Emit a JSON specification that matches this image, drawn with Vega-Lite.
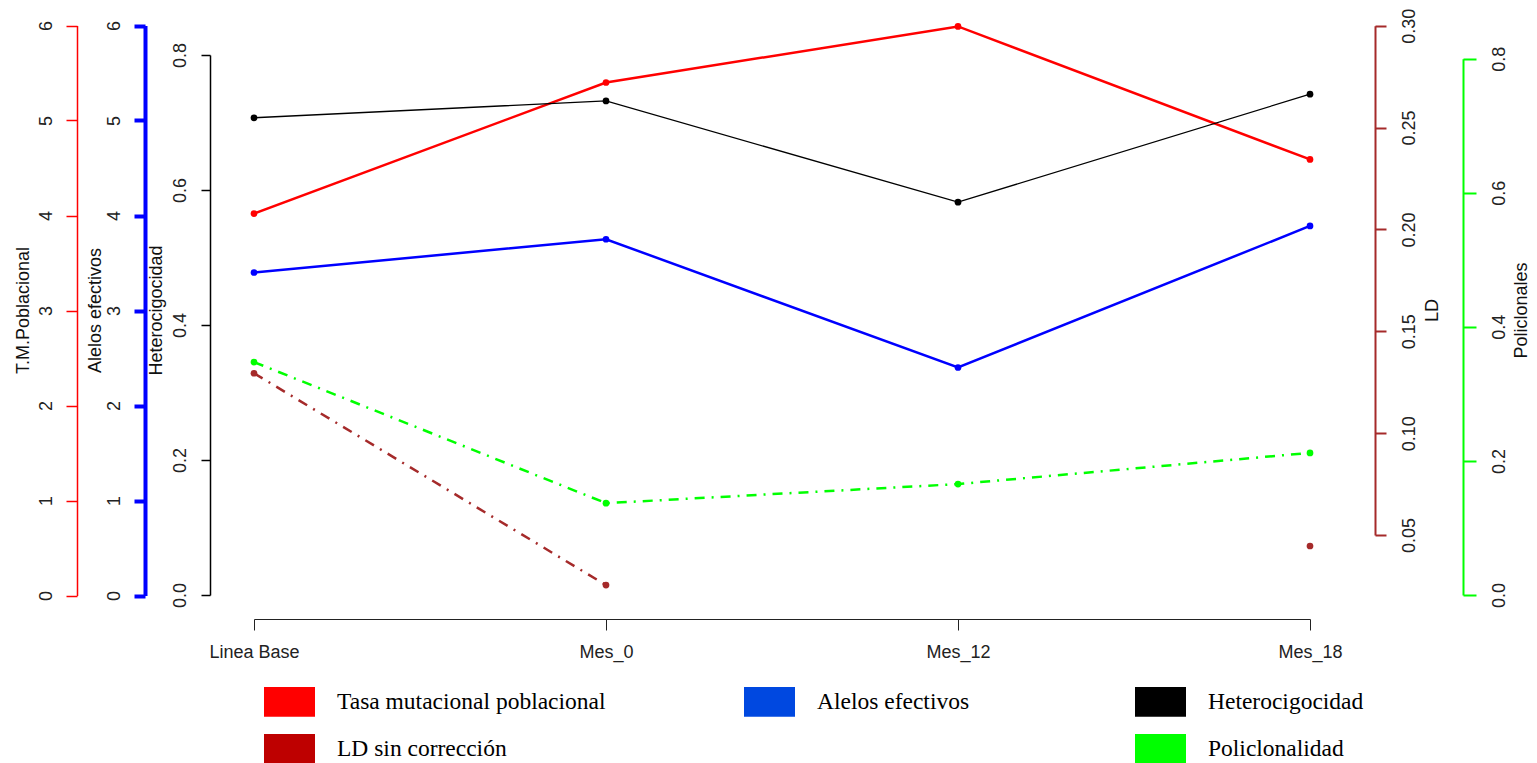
{
  "$schema": "https://vega.github.io/schema/vega-lite/v6.json",
  "autosize": "none",
  "padding": {"left": 210, "top": 0, "right": 185, "bottom": 144},
  "width": 1142,
  "height": 619,
  "background": "white",
  "config": {
    "view": {"stroke": null},
    "axis": {"grid": false, "labelFont": "Liberation Sans", "titleFont": "Liberation Sans", "labelFontSize": 18, "titleFontSize": 18, "labelColor": "#222", "titleColor": "#111", "titleFontWeight": "normal", "labelFlush": false, "labelOverlap": false}
  },
  "data": {
    "values": [
      {"periodo": "Linea Base", "tasa": 4.02, "alelos": 3.40, "hetero": 0.707, "ld": 0.1294, "poli": 0.3475},
      {"periodo": "Mes_0", "tasa": 5.40, "alelos": 3.75, "hetero": 0.732, "ld": 0.0254, "poli": 0.137},
      {"periodo": "Mes_12", "tasa": 5.99, "alelos": 2.40, "hetero": 0.582, "ld": null, "poli": 0.1655},
      {"periodo": "Mes_18", "tasa": 4.59, "alelos": 3.89, "hetero": 0.742, "ld": 0.0446, "poli": 0.212}
    ]
  },
  "encoding": {
    "x": {
      "field": "periodo", "type": "ordinal", "sort": null,
      "scale": {"type": "point", "range": [44, 1100], "padding": 0},
      "axis": {"title": null, "labelAngle": 0, "domainColor": "#222", "domainWidth": 1, "tickColor": "#222", "tickWidth": 1, "tickSize": 11, "labelPadding": 13, "labelColor": "#222"}
    }
  },
  "layer": [
    {
      "encoding": {
        "y": {
          "field": "tasa", "type": "quantitative",
          "scale": {"domain": [0, 6], "range": [595.5, 25.5], "nice": false, "zero": false},
          "axis": {"orient": "left", "offset": 133, "values": [0, 1, 2, 3, 4, 5, 6], "domainColor": "#FF0000", "domainWidth": 1.5, "tickColor": "#FF0000", "tickWidth": 1.5, "tickSize": 11, "labelAngle": 270, "labelAlign": "center", "labelBaseline": "middle", "labelPadding": 20, "title": "T.M.Poblacional", "titleAngle": 270, "titleAlign": "center", "titleBaseline": "middle", "titleX": -54, "titleY": 310}
        }
      },
      "layer": [
        {"mark": {"type": "line", "color": "#FF0000", "strokeWidth": 2.5}},
        {"mark": {"type": "point", "filled": true, "opacity": 1, "size": 45, "color": "#FF0000"}}
      ]
    },
    {
      "encoding": {
        "y": {
          "field": "alelos", "type": "quantitative",
          "scale": {"domain": [0, 6], "range": [595.5, 25.5], "nice": false, "zero": false},
          "axis": {"orient": "left", "offset": 65, "values": [0, 1, 2, 3, 4, 5, 6], "domainColor": "#0000FF", "domainWidth": 4, "tickColor": "#0000FF", "tickWidth": 4, "tickSize": 11, "labelAngle": 270, "labelAlign": "center", "labelBaseline": "middle", "labelPadding": 20, "title": "Alelos efectivos", "titleAngle": 270, "titleAlign": "center", "titleBaseline": "middle", "titleX": -50, "titleY": 310}
        }
      },
      "layer": [
        {"mark": {"type": "line", "color": "#0000FF", "strokeWidth": 2.5}},
        {"mark": {"type": "point", "filled": true, "opacity": 1, "size": 45, "color": "#0000FF"}}
      ]
    },
    {
      "encoding": {
        "y": {
          "field": "hetero", "type": "quantitative",
          "scale": {"domain": [0, 0.8], "range": [595, 55], "nice": false, "zero": false},
          "axis": {"orient": "left", "offset": 0, "values": [0, 0.2, 0.4, 0.6, 0.8], "format": ".1f", "domainColor": "#000000", "domainWidth": 1.5, "tickColor": "#000000", "tickWidth": 1.5, "tickSize": 9, "labelAngle": 270, "labelAlign": "center", "labelBaseline": "middle", "labelPadding": 21, "title": "Heterocigocidad", "titleAngle": 270, "titleAlign": "center", "titleBaseline": "middle", "titleX": -53.5, "titleY": 310}
        }
      },
      "layer": [
        {"mark": {"type": "line", "color": "#000000", "strokeWidth": 1.3}},
        {
          "mark": {"type": "point", "filled": true, "opacity": 1, "size": 45},
          "encoding": {
            "color": {
              "datum": "Heterocigocidad", "type": "nominal",
              "scale": {
                "domain": ["Tasa mutacional poblacional", "Alelos efectivos", "Heterocigocidad", "LD sin corrección", "\u2800\u2800\u2800\u2800\u2800\u2800\u2800\u2800\u2800\u2800", "Policlonalidad"],
                "range": ["#FF0000", "#0048E0", "#000000", "#BE0000", "transparent", "#00FF00"]
              },
              "legend": {"orient": "none", "direction": "horizontal", "legendX": 54, "legendY": 676, "columns": 3, "columnPadding": 138, "rowPadding": 6.4, "symbolType": "M-1,-0.58L1,-0.58L1,0.58L-1,0.58Z", "symbolSize": 2601, "symbolStrokeWidth": 0, "symbolOpacity": 1, "labelFont": "Liberation Serif", "labelFontSize": 23.5, "labelColor": "#000", "labelOffset": 22, "labelLimit": 600, "title": null, "padding": 0, "offset": 0}
            }
          }
        }
      ]
    },
    {
      "encoding": {
        "y": {
          "field": "ld", "type": "quantitative",
          "scale": {"domain": [0.05, 0.3], "range": [535, 25.7], "nice": false, "zero": false},
          "axis": {"orient": "right", "offset": 23, "values": [0.05, 0.1, 0.15, 0.2, 0.25, 0.3], "format": ".2f", "domainColor": "#A52A2A", "domainWidth": 2, "tickColor": "#A52A2A", "tickWidth": 2, "tickSize": 11, "labelAngle": 270, "labelAlign": "center", "labelBaseline": "middle", "labelPadding": 23, "title": "LD", "titleAngle": 270, "titleAlign": "center", "titleBaseline": "middle", "titleX": 57, "titleY": 310}
        }
      },
      "layer": [
        {"mark": {"type": "line", "color": "#A52A2A", "strokeWidth": 2.5, "strokeDash": [10, 7, 2, 7], "invalid": "break-paths-filter-domains"}},
        {"mark": {"type": "point", "filled": true, "opacity": 1, "size": 45, "color": "#A52A2A"}}
      ]
    },
    {
      "encoding": {
        "y": {
          "field": "poli", "type": "quantitative",
          "scale": {"domain": [0, 0.8], "range": [595, 58.7], "nice": false, "zero": false},
          "axis": {"orient": "right", "offset": 111, "values": [0, 0.2, 0.4, 0.6, 0.8], "format": ".1f", "domainColor": "#00FF00", "domainWidth": 2, "tickColor": "#00FF00", "tickWidth": 2, "tickSize": 13, "labelAngle": 270, "labelAlign": "center", "labelBaseline": "middle", "labelPadding": 23, "title": "Policlonales", "titleAngle": 270, "titleAlign": "center", "titleBaseline": "middle", "titleX": 58, "titleY": 310}
        }
      },
      "layer": [
        {"mark": {"type": "line", "color": "#00FF00", "strokeWidth": 2.5, "strokeDash": [10, 7, 2, 7]}},
        {"mark": {"type": "point", "filled": true, "opacity": 1, "size": 45, "color": "#00FF00"}}
      ]
    }
  ],
  "resolve": {"scale": {"y": "independent"}}
}
